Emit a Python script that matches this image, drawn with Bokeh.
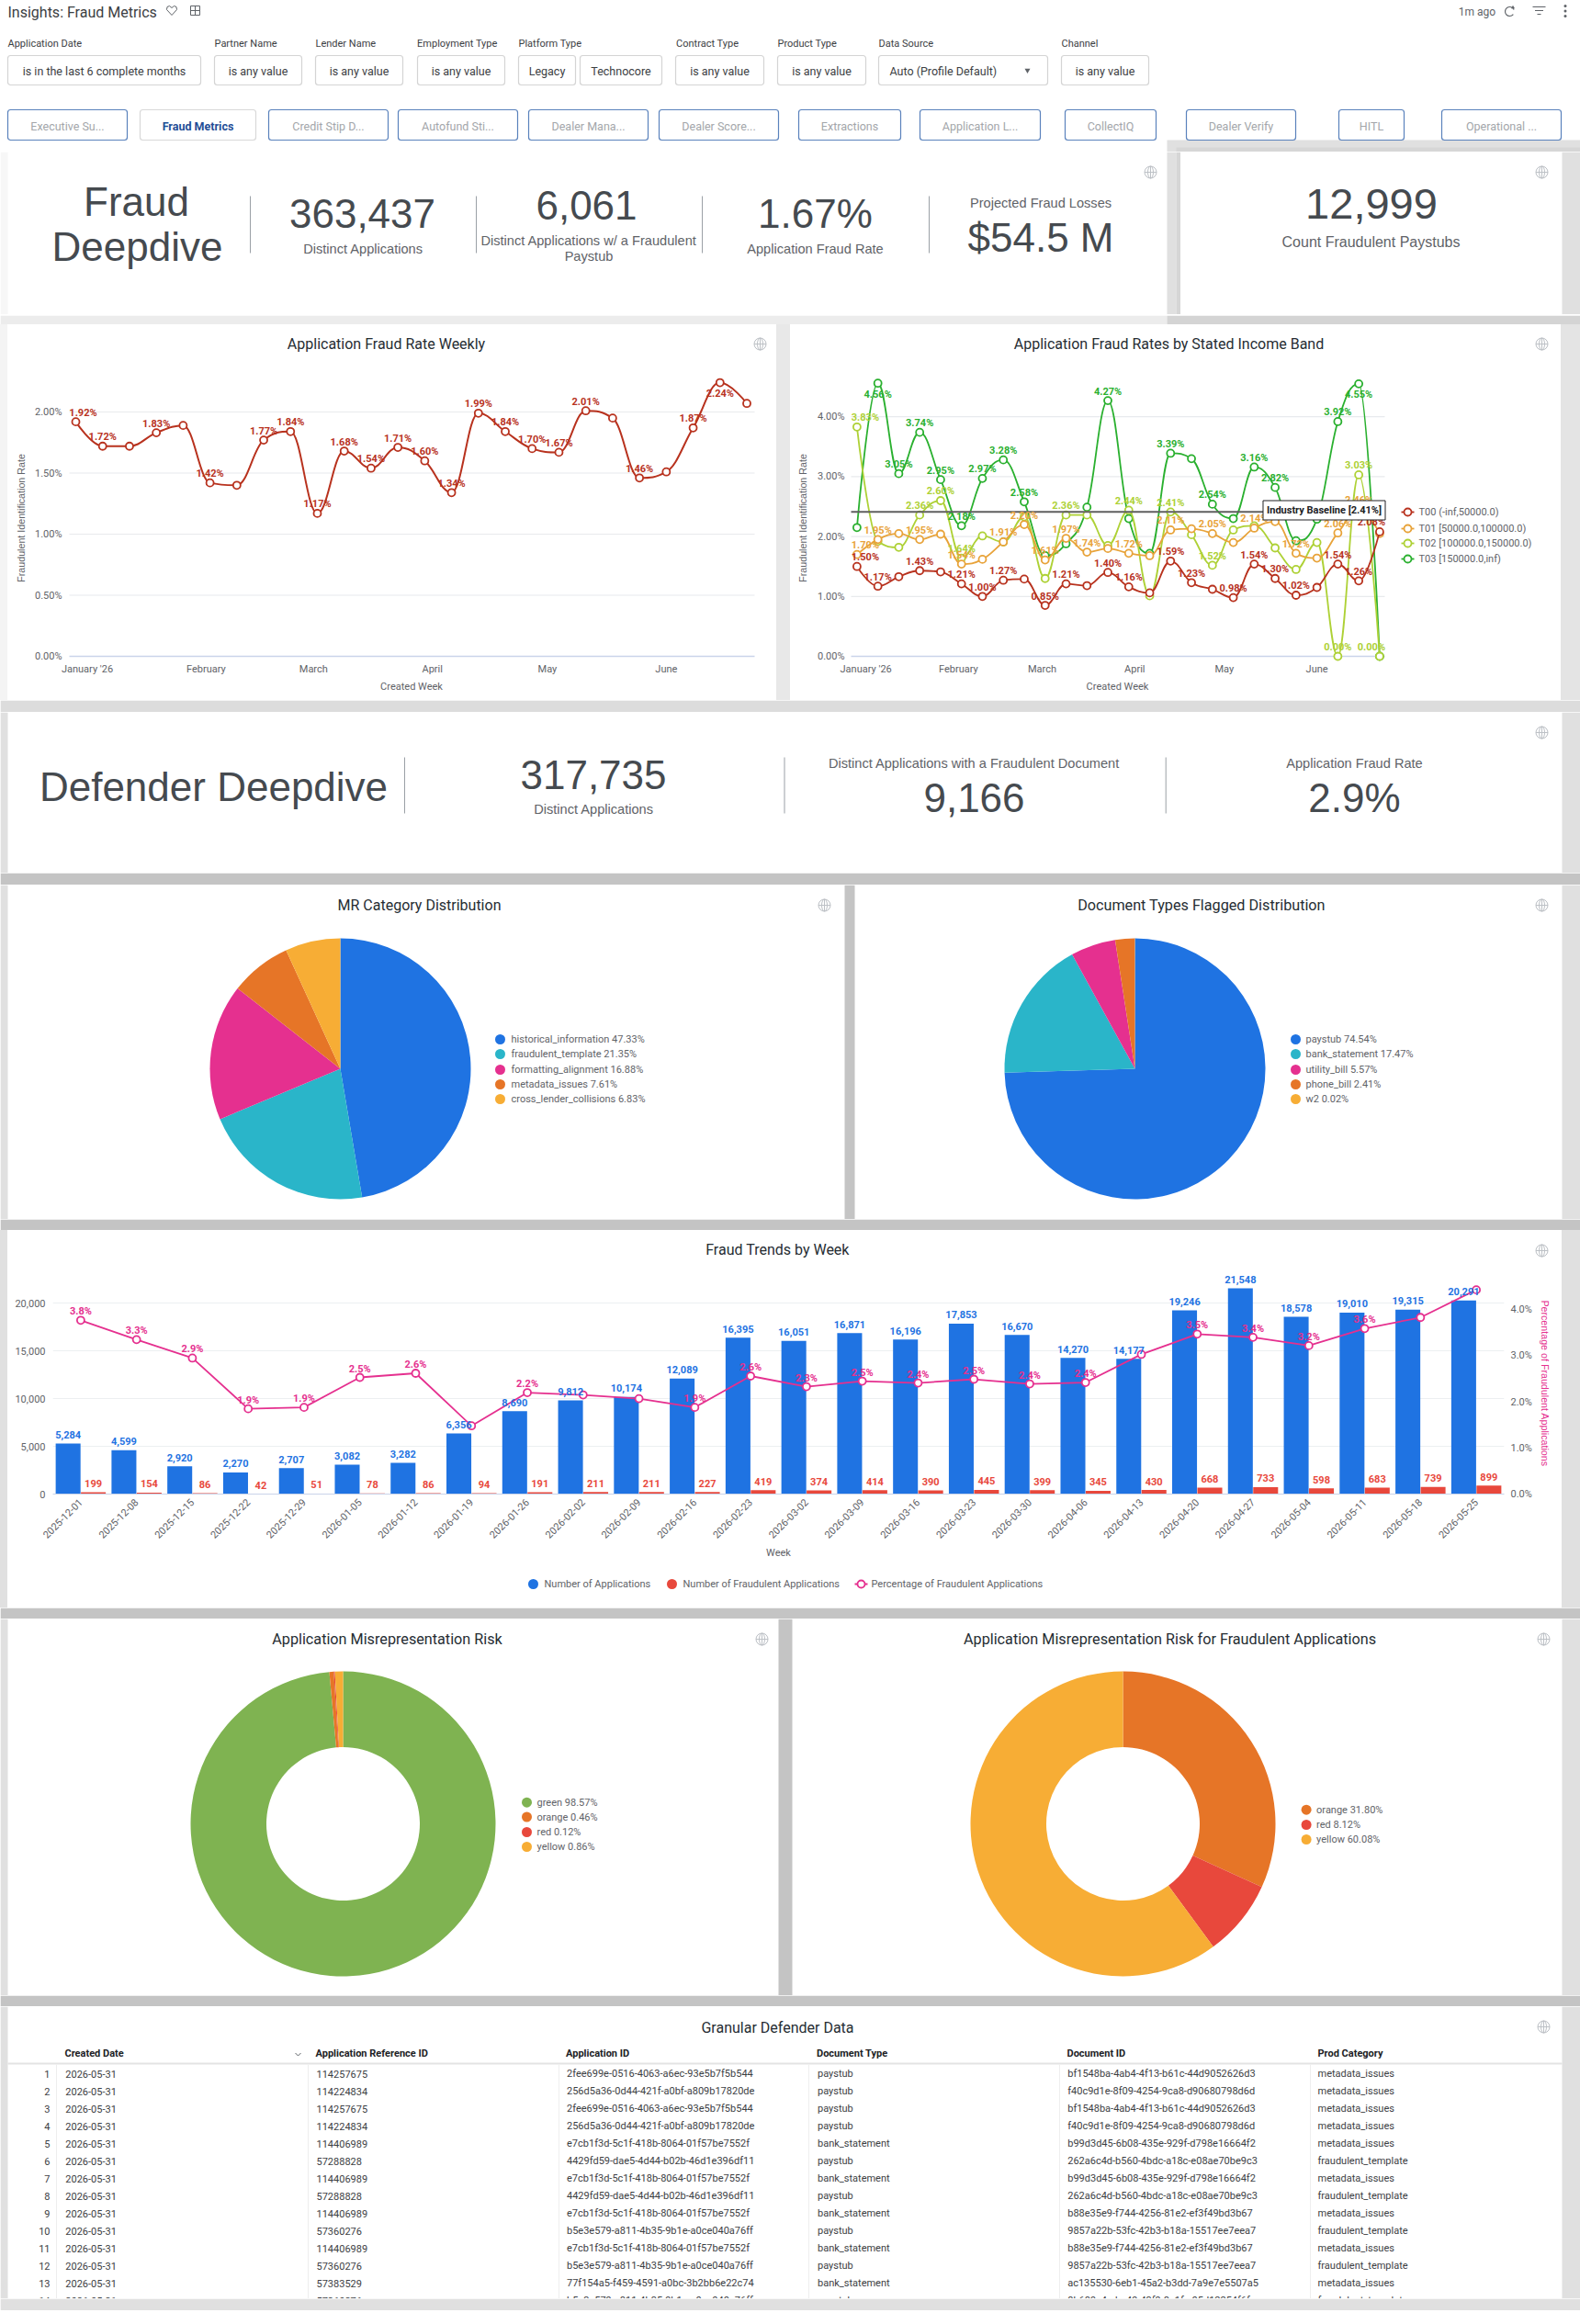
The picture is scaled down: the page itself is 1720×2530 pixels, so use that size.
from math import pi, nan
import pandas as pd
from bokeh.plotting import figure
from bokeh.layouts import column, row
from bokeh.embed import file_html
from bokeh.resources import INLINE
from bokeh.core.properties import value
from bokeh.models import (ColumnDataSource, Range1d, FactorRange, FixedTicker, PrintfTickFormatter, NumeralTickFormatter,
                          LabelSet, Label, LinearAxis, Spacer)
from bokeh.transform import dodge

# ---------- DATA ----------
rate_weeks = ["2025-12-29","2026-01-05","2026-01-12","2026-01-19","2026-01-26","2026-02-02","2026-02-09","2026-02-16",
              "2026-02-23","2026-03-02","2026-03-09","2026-03-16","2026-03-23","2026-03-30","2026-04-06","2026-04-13",
              "2026-04-20","2026-04-27","2026-05-04","2026-05-11","2026-05-18","2026-05-25","2026-06-01","2026-06-08",
              "2026-06-15","2026-06-22"]
month_ticks = ["2026-01-01","2026-02-01","2026-03-01","2026-04-01","2026-05-01","2026-06-01"]
month_labels = ["January '26","February","March","April","May","June"]

weekly_rate = [1.92,1.72,1.72,1.83,1.89,1.42,1.40,1.77,1.84,1.17,1.68,1.54,1.71,1.60,1.34,1.99,1.84,1.70,1.67,2.01,1.95,1.46,1.51,1.87,2.24,2.07]
weekly_labeled = [0,1,3,5,7,8,9,10,11,12,13,14,15,16,17,18,19,21,23,24]

t00 = [1.50,1.17,1.33,1.43,1.41,1.21,1.00,1.27,1.29,0.85,1.21,1.18,1.40,1.16,1.06,1.59,1.23,1.12,0.98,1.54,1.30,1.02,1.15,1.54,1.26,2.08]
t01 = [1.70,1.95,2.05,1.95,2.04,1.54,1.62,1.91,2.20,1.61,1.97,1.74,1.80,1.72,1.68,2.11,2.13,2.05,1.90,2.14,2.25,1.72,1.64,2.06,2.46,2.05]
t02 = [3.83,1.92,1.82,2.36,2.60,1.64,2.01,1.91,2.33,1.30,2.36,2.36,1.85,2.44,1.01,2.41,2.03,1.52,2.11,2.18,1.81,1.45,1.90,0.00,3.03,0.00]
t03 = [2.15,4.56,3.05,3.74,2.95,2.18,2.97,3.28,2.58,1.68,1.88,2.49,4.27,2.30,1.72,3.39,3.30,2.54,2.30,3.16,2.82,1.93,2.29,3.92,4.55,0.00]
t00_labeled = [0,1,3,5,6,7,9,10,12,13,15,16,18,19,20,21,23,24,25]
t01_labeled = [0,1,3,5,7,8,9,10,11,13,15,17,19,21,23,24]
t02_labeled = [0,3,4,5,10,13,15,17,23,24,25]
t03_labeled = [1,2,3,4,5,6,7,8,12,15,17,19,20,23,24]
band_names = ["T00 (-inf,50000.0)","T01 [50000.0,100000.0)","T02 [100000.0,150000.0)","T03 [150000.0,inf)"]
baseline = 2.41
baseline_label = "Industry Baseline [2.41%]"

mr_categories = ["historical_information","fraudulent_template","formatting_alignment","metadata_issues","cross_lender_collisions"]
mr_shares = [47.33,21.35,16.88,7.61,6.83]
doc_types_flagged = ["paystub","bank_statement","utility_bill","phone_bill","w2"]
doc_shares = [74.54,17.47,5.57,2.41,0.02]

trend_weeks = ["2025-12-01","2025-12-08","2025-12-15","2025-12-22","2025-12-29","2026-01-05","2026-01-12","2026-01-19","2026-01-26",
               "2026-02-02","2026-02-09","2026-02-16","2026-02-23","2026-03-02","2026-03-09","2026-03-16","2026-03-23","2026-03-30",
               "2026-04-06","2026-04-13","2026-04-20","2026-04-27","2026-05-04","2026-05-11","2026-05-18","2026-05-25"]
applications = [5284,4599,2920,2270,2707,3082,3282,6356,8690,9812,10174,12089,16395,16051,16871,16196,17853,16670,14270,14177,19246,21548,18578,19010,19315,20291]
fraud_apps = [199,154,86,42,51,78,86,94,191,211,211,227,419,374,414,390,445,399,345,430,668,733,598,683,739,899]
fraud_pct = [3.77,3.35,2.95,1.85,1.88,2.53,2.62,1.48,2.20,2.15,2.07,1.88,2.56,2.33,2.45,2.41,2.49,2.39,2.42,3.03,3.47,3.40,3.22,3.59,3.83,4.43]
fraud_pct_labels = ["3.8%","3.3%","2.9%","1.9%","1.9%","2.5%","2.6%","","2.2%","","","1.9%","2.6%","2.3%","2.5%","2.4%","2.5%","2.4%","2.4%","","3.5%","3.4%","3.2%","3.6%","",""]
trend_series_names = ["Number of Applications","Number of Fraudulent Applications","Percentage of Fraudulent Applications"]

risk_names = ["green","orange","red","yellow"]
risk_shares = [98.57,0.46,0.12,0.86]
risk_fraud_names = ["orange","red","yellow"]
risk_fraud_shares = [31.80,8.12,60.08]

table_created = ["2026-05-31"]*14
table_ref = ["114257675","114224834","114257675","114224834","114406989","57288828","114406989","57288828","114406989","57360276","114406989","57360276","57383529","57360276"]
table_app = ["2fee699e-0516-4063-a6ec-93e5b7f5b544","256d5a36-0d44-421f-a0bf-a809b17820de","2fee699e-0516-4063-a6ec-93e5b7f5b544","256d5a36-0d44-421f-a0bf-a809b17820de",
             "e7cb1f3d-5c1f-418b-8064-01f57be7552f","4429fd59-dae5-4d44-b02b-46d1e396df11","e7cb1f3d-5c1f-418b-8064-01f57be7552f","4429fd59-dae5-4d44-b02b-46d1e396df11",
             "e7cb1f3d-5c1f-418b-8064-01f57be7552f","b5e3e579-a811-4b35-9b1e-a0ce040a76ff","e7cb1f3d-5c1f-418b-8064-01f57be7552f","b5e3e579-a811-4b35-9b1e-a0ce040a76ff",
             "77f154a5-f459-4591-a0bc-3b2bb6e22c74","b5e3e579-a811-4b35-9b1e-a0ce040a76ff"]
table_type = ["paystub","paystub","paystub","paystub","bank_statement","paystub","bank_statement","paystub","bank_statement","paystub","bank_statement","paystub","bank_statement","paystub"]
table_doc = ["bf1548ba-4ab4-4f13-b61c-44d9052626d3","f40c9d1e-8f09-4254-9ca8-d90680798d6d","bf1548ba-4ab4-4f13-b61c-44d9052626d3","f40c9d1e-8f09-4254-9ca8-d90680798d6d",
             "b99d3d45-6b08-435e-929f-d798e16664f2","262a6c4d-b560-4bdc-a18c-e08ae70be9c3","b99d3d45-6b08-435e-929f-d798e16664f2","262a6c4d-b560-4bdc-a18c-e08ae70be9c3",
             "b88e35e9-f744-4256-81e2-ef3f49bd3b67","9857a22b-53fc-42b3-b18a-15517ee7eea7","b88e35e9-f744-4256-81e2-ef3f49bd3b67","9857a22b-53fc-42b3-b18a-15517ee7eea7",
             "ac135530-6eb1-45a2-b3dd-7a9e7e5507a5","8b689c4a-bc49-43f9-8c1f-c05d12254f6f"]
table_prod = ["metadata_issues"]*5+["fraudulent_template","metadata_issues","fraudulent_template","metadata_issues","fraudulent_template","metadata_issues","fraudulent_template","metadata_issues","fraudulent_template"]
table_headers = ["Created Date","Application Reference ID","Application ID","Document Type","Document ID","Prod Category"]

filter_names = ["Application Date","Partner Name","Lender Name","Employment Type","Platform Type","Contract Type","Product Type","Data Source","Channel"]
tab_names = ["Executive Su...","Fraud Metrics","Credit Stip D...","Autofund Sti...","Dealer Mana...","Dealer Score...","Extractions","Application L...","CollectIQ","Dealer Verify","HITL","Operational ..."]

# ---------- STYLE ----------
SANS = "Roboto"; HELV = "Liberation Sans"
INK = "#3c4043"; BIGC = "#454a4f"; SUB = "#5f6368"; TITLE = "#262d33"
BLUE = "#1f73e2"; TEAL = "#2ab5c9"; PINK = "#e5308f"; ORANGE = "#e67527"; AMBER = "#f7ad35"; GREEN = "#7fb351"; RED = "#e8483c"
C_T00 = "#b8321e"; C_T01 = "#e8a33a"; C_T02 = "#aed136"; C_T03 = "#2ab02f"
GUT = "#e0e0e0"; DGUT = "#c4c4c4"; GRIDC = "#e8eaed"; ZEROC = "#c9d4ea"
DAY = 86400000.0
KPI = 14.6

def ms(d):
    return pd.Timestamp(d).timestamp() * 1000.0

def canvas(x0, y0, x1, y1):
    p = figure(width=x1-x0, height=y1-y0, x_range=Range1d(x0, x1), y_range=Range1d(y1, y0), min_border=0,
               x_axis_location=None, y_axis_location=None, toolbar_location=None, output_backend="svg",
               outline_line_color=None, background_fill_color="white", border_fill_color="white")
    p.grid.visible = False
    return p

def T(p, x, y, s, size=12, color=INK, align="center", font=SANS, style="normal"):
    p.text(x=[x], y=[y], text=[s], text_font=value(font), text_font_size=f"{size}px", text_color=color,
           text_align=align, text_baseline="middle", text_font_style=style)

def box(p, x0, y0, x1, y1, color):
    p.quad(left=[x0], right=[x1], top=[y0], bottom=[y1], fill_color=color, line_color=None)

def rbox(p, x0, y0, x1, y1, line, fill="white"):
    p.quad(left=[x0], right=[x1], top=[y0], bottom=[y1], fill_color=fill, line_color=line, line_width=1.2, border_radius=3)

def seg(p, x0, y0, x1, y1, color, w=1):
    p.line([x0, x1], [y0, y1], line_color=color, line_width=w)

def globe(p, x, y):
    p.scatter([x], [y], marker="circle_cross", size=13, fill_color=None, line_color="#bdc1c6", line_width=1)
    p.ellipse([x], [y], width=6, height=13, fill_color=None, line_color="#bdc1c6", line_width=1)

def spline(x, y):
    """Highcharts-style smoothing: bezier control points that pass through each data point."""
    n = len(x); s = 1.5; d = s + 1
    lc = [None]*n; rc = [None]*n
    for i in range(n):
        if i == 0 or i == n-1:
            lc[i] = (x[i], y[i]); rc[i] = (x[i], y[i]); continue
        lx = (s*x[i] + x[i-1])/d; ly = (s*y[i] + y[i-1])/d
        rx = (s*x[i] + x[i+1])/d; ry = (s*y[i] + y[i+1])/d
        cor = (ry-ly)*(rx-x[i])/(rx-lx) + y[i] - ry
        ly += cor; ry += cor
        if ly > y[i-1] and ly > y[i]:
            ly = max(y[i-1], y[i]); ry = 2*y[i]-ly
        elif ly < y[i-1] and ly < y[i]:
            ly = min(y[i-1], y[i]); ry = 2*y[i]-ly
        if ry > y[i+1] and ry > y[i]:
            ry = max(y[i+1], y[i]); ly = 2*y[i]-ry
        elif ry < y[i+1] and ry < y[i]:
            ry = min(y[i+1], y[i]); ly = 2*y[i]-ry
        lc[i] = (lx, ly); rc[i] = (rx, ry)
    return dict(x0=x[:-1], y0=y[:-1], x1=x[1:], y1=y[1:],
                cx0=[c[0] for c in rc[:-1]], cy0=[c[1] for c in rc[:-1]],
                cx1=[c[0] for c in lc[1:]], cy1=[c[1] for c in lc[1:]])

def rate_chart(cx0, cx1, fx0, fx1, gx0, gx1, first_px, ppd, ppu, ticks, label_standoff):
    """Chart figure: y 405..762 on the page, zero line at y 714, frame bottom at y 722.
    The frame is a little wider than the gridlines (gx0..gx1) so that no data label is clipped."""
    t0 = ms(rate_weeks[0])
    to_x = lambda px: t0 + (px-first_px)/ppd*DAY
    xr = Range1d(to_x(fx0), to_x(fx1))
    yr = Range1d(-8/ppu, 309/ppu)
    p = figure(width=cx1-cx0, height=357, x_range=xr, y_range=yr, min_border_left=fx0-cx0, min_border_right=cx1-fx1,
               min_border_top=0, min_border_bottom=40, toolbar_location=None, output_backend="svg",
               outline_line_color=None, background_fill_color="white", border_fill_color="white")
    p.grid.visible = False
    for tk in ticks:
        p.line([to_x(gx0), to_x(gx1)], [tk, tk], line_color=ZEROC if tk == 0 else GRIDC, line_width=1.5 if tk == 0 else 1.2)
    p.yaxis.ticker = FixedTicker(ticks=ticks)
    p.yaxis.formatter = PrintfTickFormatter(format="%.2f%%")
    tk = [int(ms(m)) for m in month_ticks]
    p.xaxis.ticker = FixedTicker(ticks=tk)
    p.xaxis.major_label_overrides = dict(zip(tk, month_labels))
    for ax in (p.xaxis[0], p.yaxis[0]):
        ax.axis_line_color = None; ax.major_tick_line_color = None; ax.minor_tick_line_color = None
        ax.major_tick_out = 0; ax.major_tick_in = 0; ax.minor_tick_out = 0
        ax.major_label_text_font = SANS; ax.major_label_text_font_size = "11px"; ax.major_label_text_color = SUB
    p.xaxis.major_label_standoff = -1
    p.xaxis.axis_label = "Created Week"
    p.xaxis.axis_label_text_font = SANS; p.xaxis.axis_label_text_font_size = "11px"
    p.xaxis.axis_label_text_font_style = "normal"; p.xaxis.axis_label_text_color = SUB; p.xaxis.axis_label_standoff = 3
    p.yaxis.major_label_standoff = -7
    p.yaxis.axis_label = "Fraudulent Identification Rate"
    p.yaxis.axis_label_text_font = HELV; p.yaxis.axis_label_text_font_size = "10.7px"
    p.yaxis.axis_label_text_font_style = "normal"; p.yaxis.axis_label_text_color = SUB; p.yaxis.axis_label_standoff = label_standoff
    return p, to_x

def add_series(p, xs, ys, color, labeled, below=(), lw=1.8, edge_shift=9):
    p.bezier(x0="x0", y0="y0", x1="x1", y1="y1", cx0="cx0", cy0="cy0", cx1="cx1", cy1="cy1",
             source=ColumnDataSource(spline(xs, ys)), line_color=color, line_width=lw)
    p.scatter(xs, ys, size=8, fill_color="white", line_color=color, line_width=1.8)
    # labels at the first and last week are nudged inward so they stay over the plot area
    xoff = [edge_shift if i == 0 else (-edge_shift if i == len(xs)-1 else 0) for i in labeled]
    src = ColumnDataSource(dict(x=[xs[i] for i in labeled], y=[ys[i] for i in labeled],
                                t=[f"{ys[i]:.2f}%" for i in labeled], xoff=xoff,
                                off=[-12 if i in below else 10 for i in labeled]))
    return LabelSet(x="x", y="y", text="t", source=src, x_offset="xoff", y_offset="off", text_align="center", text_baseline="middle",
                    text_font=value(SANS), text_font_style="bold", text_font_size="11px", text_color=color)

def dot_legend(p, names, shares, colors, x_mark, y_rows, x_text, size=11):
    for n, sh, c, y in zip(names, shares, colors, y_rows):
        p.scatter([x_mark], [y], size=size, fill_color=c, line_color=None)
        T(p, x_text, y, f"{n} {sh:.2f}%", 11, SUB, "left")

def slices(shares):
    total = 0.0; st = []; en = []; tot = sum(shares)
    for v in shares:
        st.append(pi/2 - 2*pi*total/tot); total += v; en.append(pi/2 - 2*pi*total/tot)
    return st, en

def gap(y0, y1, parts):
    p = canvas(0, y0, 1720, y1)
    for x0, x1, c in parts:
        box(p, x0, y0, x1, y1, c)
    return p

def fill(w, h, c):
    return Spacer(width=w, height=h, styles={"background-color": c})

# ---------- HEADER ----------
H = canvas(0, 0, 1720, 165)
box(H, 1270, 152, 1720, 165, GUT); box(H, 1280, 160, 1720, 165, "#d6d6d6")
T(H, 8, 13, "Insights: Fraud Metrics", 16, INK, "left")
H.patch([186.5, 181, 181.5, 184, 186.5, 189, 191.5, 192, 186.5], [16, 10, 7, 6, 8, 6, 7, 10, 16], fill_color=None, line_color=SUB, line_width=1)
H.scatter([212], [11], marker="square_cross", size=10, fill_color=None, line_color=SUB, line_width=1)
T(H, 1607.5, 12, "1m ago", 12, SUB)
H.arc([1643], [12], radius=5, start_angle=0.4, end_angle=5.6, line_color=SUB, line_width=1.2)
H.scatter([1646.5], [7.5], marker="triangle", size=4, fill_color=SUB, line_color=None)
for yy, hw in [(7, 7), (11, 4.5), (15, 2)]:
    seg(H, 1675-hw, yy, 1675+hw, yy, SUB, 1.2)
H.scatter([1703.5]*3, [6, 11.5, 17], size=3, fill_color=SUB, line_color=None)
for x, n in zip([8, 233, 343, 453.6, 564, 735.6, 846, 956, 1155], filter_names):
    T(H, x, 47, n, 11, INK, "left")
for x0, x1, s in [(8, 218, "is in the last 6 complete months"), (233, 328, "is any value"), (343, 438, "is any value"),
                  (454, 549, "is any value"), (564, 626, "Legacy"), (631, 720, "Technocore"),
                  (735, 831, "is any value"), (846, 942, "is any value"), (1155, 1250, "is any value")]:
    rbox(H, x0, 60, x1, 92, "#d4d4d4")
    T(H, (x0+x1)/2, 76.5, s, 12.5, INK)
rbox(H, 956, 60, 1140, 92, "#d4d4d4")
T(H, 968, 76.5, "Auto (Profile Default)", 12.5, INK, "left")
H.scatter([1118], [76], marker="inverted_triangle", size=6, fill_color=SUB, line_color=None)
tab_x = [(8, 138), (152, 278), (292, 422), (433, 563), (575, 705), (717, 847), (869, 980), (1001, 1132), (1159, 1258), (1291, 1410), (1457, 1528), (1569, 1699)]
for i, ((x0, x1), n) in enumerate(zip(tab_x, tab_names)):
    active = n == "Fraud Metrics"
    rbox(H, x0, 119, x1, 152, "#d8d8d8" if active else "#5a82bc")
    T(H, (x0+x1)/2, 136.5, n, 12.5, "#1f4e96" if active else "#a3a6aa", style="bold" if active else "normal")

# ---------- KPI CARDS ----------
K1 = canvas(0, 165, 1285, 342)
box(K1, 0, 165, 8, 342, "#f7f7f7"); box(K1, 1270, 165, 1280, 342, GUT); box(K1, 1280, 165, 1285, 342, "#d6d6d6")
BIG = 44
T(K1, 148, 219, "Fraud", BIG, BIGC, font=HELV); T(K1, 149, 268, "Deepdive", BIG, BIGC, font=HELV)
for x in (272, 518, 764, 1011):
    seg(K1, x, 213, x, 275, "#9aa0a6", 1)
T(K1, 394, 232, "363,437", BIG, BIGC, font=HELV); T(K1, 395, 270, "Distinct Applications", KPI, SUB, font=HELV)
T(K1, 638, 223, "6,061", BIG, BIGC, font=HELV)
T(K1, 640.5, 261, "Distinct Applications w/ a Fraudulent", KPI, SUB, font=HELV); T(K1, 640.5, 278, "Paystub", KPI, SUB, font=HELV)
T(K1, 887, 232, "1.67%", BIG, BIGC, font=HELV); T(K1, 887, 270, "Application Fraud Rate", KPI, SUB, font=HELV)
T(K1, 1132.5, 220, "Projected Fraud Losses", KPI, SUB, font=HELV); T(K1, 1132.5, 258, "$54.5 M", BIG, BIGC, font=HELV)
globe(K1, 1252, 187)
K2 = canvas(1285, 165, 1720, 342)
box(K2, 1700, 165, 1720, 342, GUT)
T(K2, 1492.5, 221, "12,999", 47, BIGC, font=HELV); T(K2, 1492, 263, "Count Fraudulent Paystubs", 16, SUB, font=HELV)
globe(K2, 1678, 187)

# ---------- RATE CHARTS ----------
xs_ms = [ms(d) for d in rate_weeks]
S1 = canvas(8, 353, 845, 405)
T(S1, 420, 374, "Application Fraud Rate Weekly", 16, TITLE); globe(S1, 827, 374)
C1, _ = rate_chart(8, 845, 60, 835, 75, 821, 82, 29.22/7, 133.0, [0, 0.5, 1.0, 1.5, 2.0], 6)
C1.add_layout(add_series(C1, xs_ms, weekly_rate, C_T00, weekly_labeled, below=(24,), lw=2, edge_shift=8))

S2 = canvas(860, 353, 1699, 405)
T(S2, 1272, 374, "Application Fraud Rates by Stated Income Band", 16, TITLE); globe(S2, 1678, 374)
C2, to_x2 = rate_chart(860, 1522, 912, 1520, 926, 1507, 932.4, 22.76/7, 65.2, [0, 1, 2, 3, 4], 7)
labelsets = []
for vals, col, lab, below in [(t03, C_T03, t03_labeled, (1, 24)), (t02, C_T02, t02_labeled, ()),
                              (t01, C_T01, t01_labeled, ()), (t00, C_T00, t00_labeled, ())]:
    labelsets.append(add_series(C2, xs_ms, vals, col, lab, below=below))
for ls in labelsets:
    C2.add_layout(ls)
C2.line([to_x2(926), to_x2(1507)], [baseline, baseline], line_color="#5f5f5f", line_width=2)
C2.add_layout(Label(x=529, y=167, x_units="screen", y_units="screen", text=baseline_label, text_align="center", text_baseline="middle",
                    text_font=SANS, text_font_style="bold", text_font_size="11px", text_color="#202124",
                    background_fill_color="white", border_line_color="#202124", border_line_width=1, padding=4))
L2 = canvas(1522, 405, 1699, 762)
for name, col, y in zip(band_names, [C_T00, C_T01, C_T02, C_T03], [557, 575, 591, 608]):
    seg(L2, 1525, y, 1539, y, col, 1.8)
    L2.scatter([1532], [y], size=8, fill_color="white", line_color=col, line_width=1.8)
    T(L2, 1544, y, name, 11, SUB, "left")

# ---------- DEFENDER ----------
D = canvas(0, 775, 1720, 950)
box(D, 0, 775, 8, 950, GUT); box(D, 1700, 775, 1720, 950, GUT)
T(D, 232, 856, "Defender Deepdive", BIG, BIGC, font=HELV)
for x in (440, 853.5, 1268.7):
    seg(D, x, 824, x, 885, "#9aa0a6", 1)
T(D, 645.5, 843, "317,735", BIG, BIGC, font=HELV); T(D, 646, 880, "Distinct Applications", KPI, SUB, font=HELV)
T(D, 1060, 830, "Distinct Applications with a Fraudulent Document", KPI, SUB, font=HELV); T(D, 1060, 868, "9,166", BIG, BIGC, font=HELV)
T(D, 1474, 830, "Application Fraud Rate", KPI, SUB, font=HELV); T(D, 1474, 868, "2.9%", BIG, BIGC, font=HELV)
globe(D, 1678, 797)

# ---------- PIES ----------
E = canvas(0, 963, 1720, 1327)
box(E, 0, 963, 8, 1327, GUT); box(E, 919, 963, 930, 1327, DGUT); box(E, 1700, 963, 1720, 1327, GUT)
T(E, 456, 985, "MR Category Distribution", 16, TITLE); globe(E, 897, 985)
T(E, 1307.5, 985, "Document Types Flagged Distribution", 16.2, TITLE); globe(E, 1678, 985)
pie_cols = [BLUE, TEAL, PINK, ORANGE, AMBER]
legend_rows = [1131, 1147, 1164, 1180, 1196]
st, en = slices(mr_shares)
E.wedge(x=370, y=1163, radius=142, start_angle=st, end_angle=en, direction="clock", fill_color=pie_cols, line_color=None)
dot_legend(E, mr_categories, mr_shares, pie_cols, 544, legend_rows, 556)
st, en = slices(doc_shares)
E.wedge(x=1235, y=1163, radius=142, start_angle=st, end_angle=en, direction="clock", fill_color=pie_cols, line_color=None)
dot_legend(E, doc_types_flagged, doc_shares, pie_cols, 1410, legend_rows, 1421)

# ---------- TRENDS ----------
S3 = canvas(8, 1339, 1700, 1385)
T(S3, 846, 1360, "Fraud Trends by Week", 16, TITLE); globe(S3, 1678, 1361)
px_per_app = 208.7/20000; px_per_pct = 50.4
C3 = figure(width=1692, height=315, x_range=FactorRange(factors=trend_weeks), y_range=Range1d(0, 242/px_per_app),
            min_border_left=49, min_border_right=63, min_border_top=0, min_border_bottom=73,
            toolbar_location=None, output_backend="svg", outline_line_color=None,
            background_fill_color="white", border_fill_color="white")
C3.extra_y_ranges = {"pct": Range1d(0, 242/px_per_pct)}
C3.xgrid.visible = False
C3.ygrid.grid_line_color = "#eceff1"
C3.yaxis.ticker = FixedTicker(ticks=[0, 5000, 10000, 15000, 20000])
C3.yaxis.formatter = NumeralTickFormatter(format="0,0")
right = LinearAxis(y_range_name="pct", ticker=FixedTicker(ticks=[0, 1, 2, 3, 4]), formatter=PrintfTickFormatter(format="%.1f%%"))
C3.add_layout(right, "right")
for ax in (C3.xaxis[0], C3.yaxis[0], right):
    ax.major_tick_line_color = None; ax.minor_tick_line_color = None; ax.axis_line_color = None
    ax.major_tick_out = 0; ax.major_tick_in = 0; ax.minor_tick_out = 0
    ax.major_label_text_font = SANS; ax.major_label_text_font_size = "11px"; ax.major_label_text_color = SUB
C3.xaxis.axis_line_color = ZEROC
C3.xaxis.major_label_orientation = pi/4
C3.xaxis.major_label_standoff = 7
C3.yaxis[0].major_label_standoff = 8
right.major_label_standoff = 7
right.axis_label = "Percentage of Fraudulent Applications"
right.axis_label_text_color = PINK; right.axis_label_text_font = HELV; right.axis_label_text_font_size = "10.7px"
right.axis_label_text_font_style = "normal"; right.axis_label_standoff = 5
C3.xaxis.axis_label = "Week"; C3.xaxis.axis_label_text_font = SANS; C3.xaxis.axis_label_text_font_size = "11px"
C3.xaxis.axis_label_text_font_style = "normal"; C3.xaxis.axis_label_text_color = SUB; C3.xaxis.axis_label_standoff = 3
src3 = ColumnDataSource(dict(week=trend_weeks, apps=applications, frauds=fraud_apps, pct=fraud_pct,
                             apps_l=[f"{v:,}" for v in applications], frauds_l=[str(v) for v in fraud_apps], pct_l=fraud_pct_labels))
C3.vbar(x=dodge("week", -0.226, range=C3.x_range), top="apps", width=0.445, source=src3, fill_color=BLUE, line_color=None)
C3.vbar(x=dodge("week", 0.226, range=C3.x_range), top="frauds", width=0.445, source=src3, fill_color=RED, line_color=None)
C3.line(x="week", y="pct", y_range_name="pct", source=src3, line_color=PINK, line_width=1.8)
C3.scatter(x="week", y="pct", y_range_name="pct", source=src3, size=8, fill_color="white", line_color=PINK, line_width=1.8)
for col, yf, c, xo in [("apps_l", "apps", BLUE, -13.7), ("frauds_l", "frauds", RED, 13.7)]:
    C3.add_layout(LabelSet(x="week", y=yf, text=col, source=src3, x_offset=xo, y_offset=9.5, text_align="center", text_baseline="middle",
                           text_font=value(SANS), text_font_style="bold", text_font_size="11px", text_color=c))
C3.add_layout(LabelSet(x="week", y="pct", y_range_name="pct", text="pct_l", source=src3, y_offset=9.5, text_align="center", text_baseline="middle",
                       text_font=value(SANS), text_font_style="bold", text_font_size="11px", text_color=PINK))
L3 = canvas(8, 1700, 1700, 1750)
L3.scatter([580], [1724], size=11, fill_color=BLUE, line_color=None)
T(L3, 592, 1724, trend_series_names[0], 11, SUB, "left")
L3.scatter([731], [1724], size=11, fill_color=RED, line_color=None)
T(L3, 743, 1724, trend_series_names[1], 11, SUB, "left")
seg(L3, 930, 1724, 944, 1724, PINK, 1.8)
L3.scatter([937], [1724], size=8, fill_color="white", line_color=PINK, line_width=1.8)
T(L3, 948, 1724, trend_series_names[2], 11, SUB, "left")

# ---------- DONUTS ----------
G = canvas(0, 1762, 1720, 2172)
box(G, 0, 1762, 8, 2172, GUT); box(G, 847, 1762, 862, 2172, DGUT); box(G, 1700, 1762, 1720, 2172, GUT)
T(G, 421, 1784, "Application Misrepresentation Risk", 16.2, TITLE); globe(G, 829, 1784)
T(G, 1273, 1784, "Application Misrepresentation Risk for Fraudulent Applications", 16.2, TITLE); globe(G, 1680, 1784)
st, en = slices(risk_shares)
cols = [GREEN, ORANGE, RED, AMBER]
G.annular_wedge(x=373, y=1985, inner_radius=83.5, outer_radius=166, start_angle=st, end_angle=en, direction="clock", fill_color=cols, line_color=None)
dot_legend(G, risk_names, risk_shares, cols, 573, [1961.7, 1977.5, 1994, 2010], 584)
st, en = slices(risk_fraud_shares)
cols = [ORANGE, RED, AMBER]
G.annular_wedge(x=1222, y=1985, inner_radius=83.5, outer_radius=166, start_angle=st, end_angle=en, direction="clock", fill_color=cols, line_color=None)
dot_legend(G, risk_fraud_names, risk_fraud_shares, cols, 1421.6, [1969.7, 1986, 2002], 1432.6)

# ---------- TABLE ----------
Tb = canvas(0, 2184, 1720, 2502)
box(Tb, 0, 2184, 8, 2502, GUT); box(Tb, 1700, 2184, 1720, 2502, GUT)
T(Tb, 846, 2207, "Granular Defender Data", 16, TITLE); globe(Tb, 1680, 2206)
hdr_x = [70, 343, 615.5, 888.5, 1161, 1434]
for x, h in zip(hdr_x, table_headers):
    T(Tb, x, 2235, h, 11, "#202124", "left", style="bold")
Tb.line([321, 324, 327], [2234.5, 2237.5, 2234.5], line_color=SUB, line_width=1)
seg(Tb, 8, 2246, 1700, 2246, "#e3e3e3", 2)
for x in (61, 335, 608, 880, 1153, 1426):
    seg(Tb, x, 2247, x, 2502, "#eeeeee", 1)
row_y = [2257 + 19*i for i in range(len(table_ref))]
col_x = [70.8, 344, 616.5, 889.5, 1161.7, 1434]
Tb.text(x=[54]*len(row_y), y=row_y, text=[str(i+1) for i in range(len(row_y))], text_font=value(SANS), text_font_size="11px",
        text_color=INK, text_align="right", text_baseline="middle")
for x, vals in zip(col_x, [table_created, table_ref, table_app, table_type, table_doc, table_prod]):
    Tb.text(x=[x]*len(vals), y=row_y, text=vals, text_font=value(SANS), text_font_size="11px", text_color=INK,
            text_align="left", text_baseline="middle")

# ---------- PAGE ----------
page = column(
    H,
    row(K1, K2, spacing=0),
    gap(342, 353, [(0, 1270, "#ececec"), (1270, 1720, "#d4d4d4")]),
    row(fill(8, 52, "#f4f4f4"), S1, fill(15, 52, "#e8e8e8"), S2, fill(21, 52, "#e4e4e4"), spacing=0),
    row(fill(8, 357, "#f4f4f4"), C1, fill(15, 357, "#e8e8e8"), C2, column(L2), fill(21, 357, "#e4e4e4"), spacing=0),
    gap(762, 775, [(0, 1720, "#dcdcdc")]),
    D,
    gap(950, 963, [(0, 1720, DGUT)]),
    E,
    gap(1327, 1339, [(0, 1720, DGUT)]),
    row(fill(8, 46, GUT), S3, fill(20, 46, GUT), spacing=0),
    row(fill(8, 315, GUT), C3, fill(20, 315, GUT), spacing=0),
    row(fill(8, 50, GUT), L3, fill(20, 50, GUT), spacing=0),
    gap(1750, 1762, [(0, 1720, DGUT)]),
    G,
    gap(2172, 2184, [(0, 1720, DGUT)]),
    Tb,
    gap(2502, 2515, [(0, 1720, GUT)]),
    spacing=0,
)
open("out.html", "w").write(file_html(page, INLINE))
